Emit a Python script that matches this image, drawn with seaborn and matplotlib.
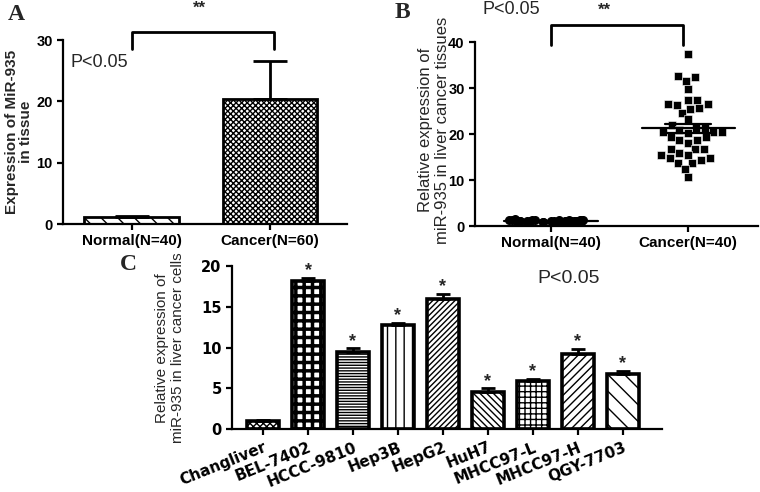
import numpy as np
import pandas as pd
import matplotlib
matplotlib.use("Agg")
import matplotlib.pyplot as plt
import seaborn as sns

# ---------------- data ----------------
a_categories = ["Normal(N=40)", "Cancer(N=60)"]
a_values = [1.1, 20.3]
a_errors = [0.15, 6.2]

b_categories = ["Normal(N=40)", "Cancer(N=40)"]
b_normal = [1.0, 1.1, 0.9, 1.2, 1.0, 0.8, 1.3, 1.1, 0.9, 1.0,
            1.2, 1.4, 0.9, 1.0, 1.1, 0.8, 1.2, 1.0, 1.5, 0.9,
            1.1, 1.0, 1.3, 0.9, 1.0, 1.2, 0.8, 1.1, 1.0, 1.4,
            0.9, 1.2, 1.0, 1.1, 0.9, 1.3, 1.0, 1.1, 0.8, 1.0]
b_cancer = [37.4, 32.3, 31.6, 32.6, 29.7, 26.5, 26.3, 25.4, 27.4, 27.5,
            26.5, 24.6, 25.6, 23.2, 21.4, 20.4, 20.3, 22.0, 20.5, 20.9,
            20.5, 21.4, 18.7, 18.0, 19.3, 19.3, 18.7, 16.7, 15.8, 16.7,
            16.7, 15.4, 14.7, 14.8, 15.4, 13.8, 13.6, 14.3, 12.5, 10.7]

c_categories = ["Changliver", "BEL-7402", "HCCC-9810", "Hep3B", "HepG2",
                "HuH7", "MHCC97-L", "MHCC97-H", "QGY-7703"]
c_values = [1.05, 18.15, 9.5, 12.75, 16.0, 4.6, 5.9, 9.2, 6.8]
c_errors = [0.08, 0.4, 0.4, 0.3, 0.55, 0.4, 0.3, 0.6, 0.4]
c_hatches = ["xxxxx", "++", "------", "||", "//////", "\\\\\\\\\\", "+++", "////", "\\\\"]

# ---------------- style ----------------
sns.set_style("ticks")
plt.rcParams["font.family"] = ["Liberation Sans", "DejaVu Sans"]
plt.rcParams["hatch.linewidth"] = 1.0
plt.rcParams["axes.linewidth"] = 1.6
plt.rcParams["xtick.major.width"] = 1.6
plt.rcParams["ytick.major.width"] = 1.6
plt.rcParams["xtick.major.size"] = 4
plt.rcParams["ytick.major.size"] = 4
plt.rcParams["xtick.color"] = "black"
plt.rcParams["ytick.color"] = "black"
plt.rcParams["axes.edgecolor"] = "black"

W, H = 760, 492
fig = plt.figure(figsize=(7.6, 4.92), dpi=100)


def ax_px(l, t, r, b):
    return fig.add_axes([l / W, 1 - b / H, (r - l) / W, (b - t) / H])


def style_ax(ax):
    for s in ["top", "right"]:
        ax.spines[s].set_visible(False)
    ax.tick_params(axis="both", direction="out", colors="black")


# ---------------- Panel A ----------------
axA = ax_px(63, 40, 347, 224)
dfa = pd.DataFrame({"cat": a_categories, "val": a_values})
sns.barplot(data=dfa, x="cat", y="val", ax=axA, width=0.68, color="white",
            edgecolor="black", linewidth=2.0, errorbar=None)
for p, h in zip(axA.patches, ["\\\\", "xxxxxx"]):
    p.set_hatch(h)
    p.set_facecolor("white")
axA.errorbar(np.arange(len(a_values)), a_values,
             yerr=[np.zeros(len(a_errors)), a_errors],
             fmt="none", ecolor="black", elinewidth=2.0, capsize=12, capthick=2.0)
axA.set_xlim(-0.495, 1.556)
axA.set_ylim(0, 30)
axA.set_yticks([0, 10, 20, 30])
axA.set_xlabel("")
axA.set_ylabel("Expression of MiR-935\nin tissue", fontsize=11, fontweight="bold",
               va="center", linespacing=1.05)
axA.yaxis.set_label_coords((19 - 63) / 284, 0.5)
style_ax(axA)
for lab in axA.get_yticklabels():
    lab.set_fontweight("bold")
    lab.set_fontsize(10.5)
for lab in axA.get_xticklabels():
    lab.set_fontweight("bold")
    lab.set_fontsize(11)
axA.plot([0, 0, 1.03, 1.03], [28.5, 31.3, 31.3, 28.5], color="black", lw=2, clip_on=False)
axA.text(0.49, 35.2, "**", ha="center", va="center", fontsize=12, fontweight="bold", clip_on=False)
axA.text(-0.44, 26.4, "P<0.05", ha="left", va="center", fontsize=13)

# ---------------- Panel B ----------------
axB = ax_px(475, 42, 758, 226)
dfb = pd.DataFrame({
    "grp": [b_categories[0]] * len(b_normal) + [b_categories[1]] * len(b_cancer),
    "val": b_normal + b_cancer,
})
sns.stripplot(data=dfb[dfb.grp == b_categories[0]], x="grp", y="val", ax=axB,
              order=b_categories, color="black", marker="o", size=6.5, jitter=0.32,
              edgecolor="black", linewidth=0)
sns.swarmplot(data=dfb[dfb.grp == b_categories[1]], x="grp", y="val", ax=axB,
              order=b_categories, color="black", marker="s", size=6.0,
              edgecolor="white", linewidth=0.4)
for i, vals in enumerate([b_normal, b_cancer]):
    m = np.mean(vals)
    sem = np.std(vals, ddof=1) / np.sqrt(len(vals))
    axB.plot([i - 0.34, i + 0.34], [m, m], color="black", lw=1.6, zorder=5)
    axB.plot([i - 0.17, i + 0.17], [m + sem, m + sem], color="black", lw=1.6, zorder=5)
    axB.plot([i - 0.17, i + 0.17], [m - sem, m - sem], color="black", lw=1.6, zorder=5)
axB.set_xlim(-0.555, 1.51)
axB.set_ylim(0, 40)
axB.set_yticks([0, 10, 20, 30, 40])
axB.set_xlabel("")
axB.set_ylabel("Relative expression of\nmiR-935 in liver cancer tissues", fontsize=12,
               va="center", linespacing=1.1)
axB.yaxis.set_label_coords((434 - 475) / 283, 0.52)
style_ax(axB)
for lab in axB.get_yticklabels():
    lab.set_fontweight("bold")
    lab.set_fontsize(10.5)
for lab in axB.get_xticklabels():
    lab.set_fontweight("bold")
    lab.set_fontsize(11)
axB.plot([0, 0, 0.96, 0.96], [39.3, 43.7, 43.7, 39.3], color="black", lw=2, clip_on=False)
axB.text(0.39, 47.0, "**", ha="center", va="center", fontsize=12, fontweight="bold", clip_on=False)
axB.text(-0.5, 47.0, "P<0.05", ha="left", va="center", fontsize=13, clip_on=False)

# ---------------- Panel C ----------------
axC = ax_px(232, 266, 662, 429.3)
dfc = pd.DataFrame({"cell": c_categories, "val": c_values})
sns.barplot(data=dfc, x="cell", y="val", ax=axC, width=0.7, color="white",
            edgecolor="black", linewidth=2.6, errorbar=None)
for p, h in zip(axC.patches, c_hatches):
    p.set_hatch(h)
    p.set_facecolor("white")
    if h == "++" and hasattr(p, "set_hatch_linewidth"):
        p.set_hatch_linewidth(2.5)
axC.errorbar(np.arange(len(c_values)), c_values,
             yerr=[np.zeros(len(c_errors)), c_errors],
             fmt="none", ecolor="black", elinewidth=2.0, capsize=5, capthick=2.0)
for i, (v, e) in enumerate(zip(c_values, c_errors)):
    if i == 0:
        continue
    axC.text(i, v + e + 0.9, "*", ha="center", va="center", fontsize=13, fontweight="bold")
axC.set_xlim(-0.69, 8.87)
axC.set_ylim(0, 20)
axC.set_yticks([0, 5, 10, 15, 20])
axC.set_xlabel("")
axC.set_ylabel("Relative expression of\nmiR-935 in liver cancer cells", fontsize=11,
               va="center", linespacing=1.1)
axC.yaxis.set_label_coords((170 - 232) / 430, 0.5)
style_ax(axC)
for lab in axC.get_yticklabels():
    lab.set_fontweight("bold")
    lab.set_fontsize(10.5)
    lab.set_family(["DejaVu Sans"])
axC.set_xticks(np.arange(len(c_categories)))
axC.set_xticklabels(c_categories, rotation=22, ha="right", rotation_mode="anchor",
                    fontsize=11, fontweight="bold", family=["DejaVu Sans"])
axC.text(6.09, 18.5, "P<0.05", ha="left", va="center", fontsize=14)

# ---------------- Panel letters ----------------
for txt, x, y in [("A", 8, 15), ("B", 395, 12), ("C", 120, 264)]:
    fig.text(x / W, 1 - y / H, txt, ha="left", va="center", fontsize=17,
             fontweight="bold", family=["Liberation Serif", "DejaVu Serif"])

fig.savefig("out.png", dpi=100)
